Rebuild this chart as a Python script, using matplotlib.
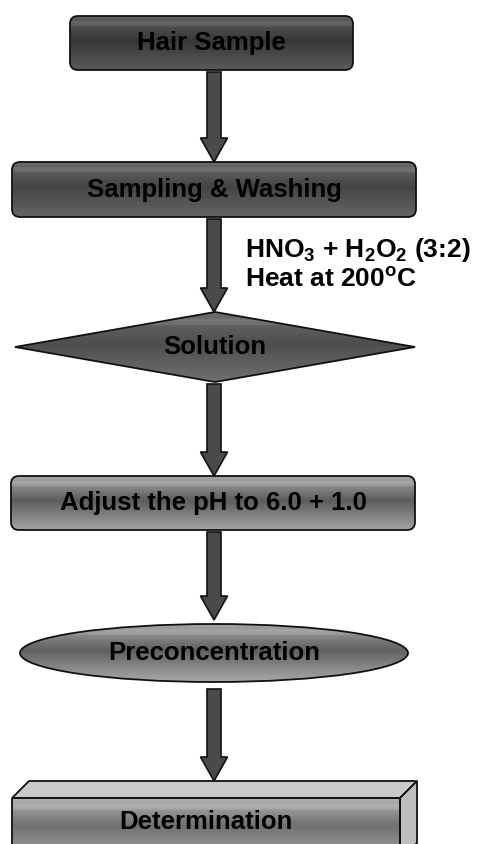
import numpy as np
import matplotlib
matplotlib.use("Agg")
import matplotlib.pyplot as plt
from matplotlib.patches import FancyBboxPatch, Polygon, Ellipse, FancyArrow

plt.rcParams['font.family'] = ['Liberation Sans', 'DejaVu Sans']
plt.rcParams['mathtext.fontset'] = 'custom'
plt.rcParams['mathtext.rm'] = 'Liberation Sans:bold'
plt.rcParams['mathtext.bf'] = 'Liberation Sans:bold'
plt.rcParams['mathtext.it'] = 'Liberation Sans:bold'

# flowchart content
steps = ["Hair Sample", "Sampling & Washing", "Solution",
         "Adjust the pH to 6.0 + 1.0", "Preconcentration", "Determination"]
shapes = ["round", "round", "diamond", "round", "ellipse", "box3d"]
note_lines = [r"HNO$_3$ + H$_2$O$_2$ (3:2)", r"Heat at 200$^{\mathbf{o}}$C"]

# layout in pixels (x0, y0, x1, y1), y down
boxes = [(70, 16, 353, 70), (12, 162, 416, 217), (15, 312, 415, 382),
         (11, 476, 415, 530), (20, 624, 408, 682), (12, 798, 400, 860)]
# gradient colours (top, middle-dark, bottom) for each shape
grads = [("#5e5e5e", "#383838", "#5a5a5a"), ("#6a6a6a", "#444444", "#656565"),
         ("#6c6c6c", "#4e4e4e", "#707070"), ("#a8a8a8", "#5c5c5c", "#a4a4a4"),
         ("#a5a5a5", "#606060", "#a8a8a8"), ("#b0b0b0", "#707070", "#a8a8a8")]

W, H = 482, 844
fig = plt.figure(figsize=(W / 100, H / 100), dpi=100)
ax = fig.add_axes([0, 0, 1, 1])
ax.set_xlim(0, W)
ax.set_ylim(H, 0)
ax.axis('off')


def hexrgb(c):
    return np.array(matplotlib.colors.to_rgb(c))


def gradient_fill(patch, bbox, cols):
    x0, y0, x1, y1 = bbox
    t = np.linspace(0, 1, 64)
    top, mid, bot = [hexrgb(c) for c in cols]
    img = np.zeros((64, 1, 3))
    for i, v in enumerate(t):
        if v < 0.45:
            f = v / 0.45
            img[i, 0] = top * (1 - f) + mid * f
        else:
            f = (v - 0.45) / 0.55
            img[i, 0] = mid * (1 - f) + bot * f
    # slight highlight band near the top
    img[6:12, 0] = np.clip(img[6:12, 0] + 0.06, 0, 1)
    im = ax.imshow(img, extent=(x0, x1, y1, y0), aspect='auto',
                   interpolation='bilinear', zorder=2)
    im.set_clip_path(patch)


for label, shape, b, g in zip(steps, shapes, boxes, grads):
    x0, y0, x1, y1 = b
    cx = (x0 + x1) / 2
    cy = (y0 + y1) / 2
    if shape == "round":
        p = FancyBboxPatch((x0, y0), x1 - x0, y1 - y0,
                           boxstyle="round,pad=0,rounding_size=8",
                           fc='none', ec='#111111', lw=1.3, zorder=3)
    elif shape == "diamond":
        p = Polygon([(x0, cy), (cx, y0), (x1, cy), (cx, y1)], closed=True,
                    fc='none', ec='#111111', lw=1.3, zorder=3)
    elif shape == "ellipse":
        p = Ellipse((cx, cy), x1 - x0, y1 - y0, fc='none', ec='#111111',
                    lw=1.3, zorder=3)
    else:
        d = 17
        top = Polygon([(x0, y0), (x0 + d, y0 - d), (x1 + d, y0 - d), (x1, y0)],
                      closed=True, fc='#c9c9c9', ec='#111111', lw=1.3, zorder=3)
        side = Polygon([(x1, y0), (x1 + d, y0 - d), (x1 + d, y1 - d), (x1, y1)],
                       closed=True, fc='#bdbdbd', ec='#111111', lw=1.3, zorder=3)
        ax.add_patch(top)
        ax.add_patch(side)
        p = Polygon([(x0, y0), (x1, y0), (x1, y1), (x0, y1)], closed=True,
                    fc='none', ec='#111111', lw=1.3, zorder=3)
        cy = 822
    ax.add_patch(p)
    gradient_fill(p, b, g)
    ax.text(cx, cy, label, ha='center', va='center', fontsize=18.5,
            fontweight='bold', color='black', zorder=4)

# arrows between steps
ax_x = 214
for i in range(len(steps) - 1):
    ya = boxes[i][3] + 2
    yb = boxes[i + 1][1] - (17 if shapes[i + 1] == "box3d" else 0)
    if shapes[i + 1] == "ellipse":
        yb -= 4
    if shapes[i] == "ellipse":
        ya += 5
    arr = FancyArrow(ax_x, ya, 0, yb - ya, width=14, head_width=27,
                     head_length=24, length_includes_head=True,
                     fc='#4a4a4a', ec='#111111', lw=1.2, zorder=3)
    ax.add_patch(arr)

# reagent note next to the digestion arrow
ax.text(245, 250, note_lines[0], ha='left', va='center', fontsize=19,
        fontweight='bold', color='black')
ax.text(245, 280, note_lines[1], ha='left', va='center', fontsize=19,
        fontweight='bold', color='black')

fig.savefig("out.png", dpi=100)
